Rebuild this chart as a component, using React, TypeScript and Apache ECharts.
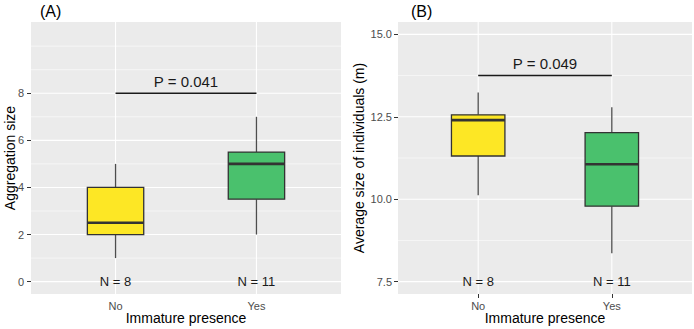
import React, { useEffect, useRef } from "react";
import * as echarts from "echarts";

const FONT = "'Liberation Sans', Arial, Helvetica, sans-serif";

const categories = ["No", "Yes"];
const panelLabels = ["(A)", "(B)"];
const yTitles = ["Aggregation size", "Average size of individuals (m)"];
const xTitle = "Immature presence";

// box statistics: [min, Q1, median, Q3, max]
const aggNo = [1, 2, 2.5, 4, 5];
const aggYes = [2, 3.5, 5, 5.5, 7];
const sizeNo = [10.12, 11.31, 12.4, 12.56, 13.24];
const sizeYes = [8.36, 9.79, 11.06, 12.02, 12.79];

const boxColors = ["#FDE725", "#4AC16D"];

const nLabels = ["N = 8", "N = 11"];
const nLabelY = [0, 7.5];
const pLabels = ["P = 0.041", "P = 0.049"];
const pBarY = [8, 13.75];
const pTextY = [8.5, 14.13];

const aMajor = [0, 2, 4, 6, 8];
const aMinor = [1, 3, 5, 7, 9, 10];
const bMajor = [7.5, 10, 12.5, 15];
const bMinor = [8.75, 11.25, 13.75];
const yLimits = [
  [-0.525, 11.025],
  [7.125, 15.375],
];
const xPositions = [1, 2];
const xLimits = [0.4, 2.6];
const boxWidth = 0.4;

const boxRender = (params: any, api: any) => {
  const x = api.value(0);
  const lo = api.coord([x, api.value(1)]);
  const q1 = api.coord([x, api.value(2)]);
  const med = api.coord([x, api.value(3)]);
  const q3 = api.coord([x, api.value(4)]);
  const hi = api.coord([x, api.value(5)]);
  const w = api.size([boxWidth, 0])[0];
  const color = boxColors[params.dataIndex];
  return {
    type: "group",
    children: [
      {
        type: "line",
        shape: { x1: lo[0], y1: lo[1], x2: q1[0], y2: q1[1] },
        style: { stroke: "#4D4D4D", lineWidth: 1.3 },
      },
      {
        type: "line",
        shape: { x1: q3[0], y1: q3[1], x2: hi[0], y2: hi[1] },
        style: { stroke: "#4D4D4D", lineWidth: 1.3 },
      },
      {
        type: "rect",
        shape: { x: q3[0] - w / 2, y: q3[1], width: w, height: q1[1] - q3[1] },
        style: { fill: color, stroke: "#333333", lineWidth: 1.3 },
      },
      {
        type: "line",
        shape: { x1: med[0] - w / 2, y1: med[1], x2: med[0] + w / 2, y2: med[1] },
        style: { stroke: "#333333", lineWidth: 2.6 },
      },
    ],
  };
};

const gridRender = (params: any, api: any) => {
  const cs = params.coordSys;
  const v = api.value(0);
  const major = api.value(1);
  const vertical = api.value(2);
  let shape;
  if (vertical) {
    const px = api.coord([v, 0])[0];
    shape = { x1: px, y1: cs.y, x2: px, y2: cs.y + cs.height };
  } else {
    const py = api.coord([1, v])[1];
    shape = { x1: cs.x, y1: py, x2: cs.x + cs.width, y2: py };
  }
  return {
    type: "line",
    shape,
    style: { stroke: "#FFFFFF", lineWidth: major ? 1.1 : 0.55 },
  };
};

const makeTextRender = (texts: string[], size: number) => (params: any, api: any) => {
  const p = api.coord([api.value(0), api.value(1)]);
  return {
    type: "text",
    x: p[0],
    y: p[1],
    style: {
      text: texts[params.dataIndex],
      fill: "#1A1A1A",
      font: `${size}px ${FONT}`,
      align: "center",
      verticalAlign: "middle",
    },
  };
};

const pBarRender = (params: any, api: any) => {
  const a = api.coord([api.value(0), api.value(2)]);
  const b = api.coord([api.value(1), api.value(2)]);
  return {
    type: "line",
    shape: { x1: a[0], y1: a[1], x2: b[0], y2: b[1] },
    style: { stroke: "#1A1A1A", lineWidth: 1.5 },
  };
};

const App: React.FC = () => {
  const ref = useRef<HTMLDivElement>(null);

  useEffect(() => {
    if (!ref.current) return;
    const chart = echarts.init(ref.current, undefined, { renderer: "svg" });

    const grids = [
      { left: 31, top: 22, width: 310, height: 272 },
      { left: 398, top: 22, width: 294, height: 272 },
    ];
    const majors = [aMajor, bMajor];
    const minors = [aMinor, bMinor];
    const boxes = [
      [aggNo, aggYes],
      [sizeNo, sizeYes],
    ];
    const yLabelMargin = [7, 6];
    const yNameGap = [14, 32];

    const series: any[] = [];
    for (let g = 0; g < 2; g++) {
      const gridData: number[][] = [];
      majors[g].forEach((v) => gridData.push([v, 1, 0]));
      minors[g].forEach((v) => gridData.push([v, 0, 0]));
      xPositions.forEach((v) => gridData.push([v, 1, 1]));
      series.push({
        type: "custom",
        xAxisIndex: g,
        yAxisIndex: g,
        z: 1,
        silent: true,
        renderItem: gridRender,
        data: gridData,
      });
      series.push({
        type: "custom",
        xAxisIndex: g,
        yAxisIndex: g,
        z: 3,
        renderItem: boxRender,
        data: boxes[g].map((b, i) => [xPositions[i], ...b]),
      });
      series.push({
        type: "custom",
        xAxisIndex: g,
        yAxisIndex: g,
        z: 4,
        renderItem: pBarRender,
        data: [[xPositions[0], xPositions[1], pBarY[g]]],
      });
      series.push({
        type: "custom",
        xAxisIndex: g,
        yAxisIndex: g,
        z: 4,
        renderItem: makeTextRender([pLabels[g]], 15),
        data: [[(xPositions[0] + xPositions[1]) / 2, pTextY[g]]],
      });
      series.push({
        type: "custom",
        xAxisIndex: g,
        yAxisIndex: g,
        z: 4,
        renderItem: makeTextRender(nLabels, 13),
        data: xPositions.map((x) => [x, nLabelY[g]]),
      });
    }

    const option: any = {
      animation: false,
      backgroundColor: "#FFFFFF",
      textStyle: { fontFamily: FONT },
      grid: grids.map((gr) => ({
        ...gr,
        show: true,
        backgroundColor: "#EBEBEB",
        borderWidth: 0,
        containLabel: false,
        outerBoundsMode: "none",
      })),
      xAxis: [0, 1].map((g) => ({
        type: "value",
        gridIndex: g,
        min: xLimits[0],
        max: xLimits[1],
        axisLine: { show: false },
        axisTick: {
          show: true,
          customValues: xPositions,
          length: 4,
          lineStyle: { color: "#333333", width: 1 },
        },
        axisLabel: {
          customValues: xPositions,
          formatter: (v: number) => categories[Math.round(v) - 1] ?? "",
          color: "#4D4D4D",
          fontSize: 11,
          margin: 6,
          fontFamily: FONT,
        },
        splitLine: { show: false },
        name: xTitle,
        nameLocation: "middle",
        nameGap: 17,
        nameMoveOverlap: false,
        nameTextStyle: { color: "#000000", fontSize: 14, fontFamily: FONT },
      })),
      yAxis: [0, 1].map((g) => ({
        type: "value",
        gridIndex: g,
        min: yLimits[g][0],
        max: yLimits[g][1],
        axisLine: { show: false },
        axisTick: {
          show: true,
          customValues: majors[g],
          length: 4,
          lineStyle: { color: "#333333", width: 1 },
        },
        axisLabel: {
          customValues: majors[g],
          formatter: (v: number) => (g === 0 ? String(v) : v.toFixed(1)),
          color: "#4D4D4D",
          fontSize: 11,
          margin: yLabelMargin[g],
          fontFamily: FONT,
        },
        splitLine: { show: false },
        minorSplitLine: { show: false },
        name: yTitles[g],
        nameLocation: "middle",
        nameGap: yNameGap[g],
        nameMoveOverlap: false,
        nameRotate: 90,
        nameTextStyle: { color: "#000000", fontSize: 14, fontFamily: FONT },
      })),
      graphic: [
        {
          type: "text",
          left: 40,
          top: 3,
          style: { text: panelLabels[0], fill: "#000000", font: `16px ${FONT}` },
        },
        {
          type: "text",
          left: 411,
          top: 3,
          style: { text: panelLabels[1], fill: "#000000", font: `16px ${FONT}` },
        },
      ],
      series,
    };

    chart.setOption(option);
    return () => chart.dispose();
  }, []);

  return (
    <div
      ref={ref}
      style={{ position: "absolute", left: 0, top: 0, width: 694, height: 329 }}
    />
  );
};

export default App;
